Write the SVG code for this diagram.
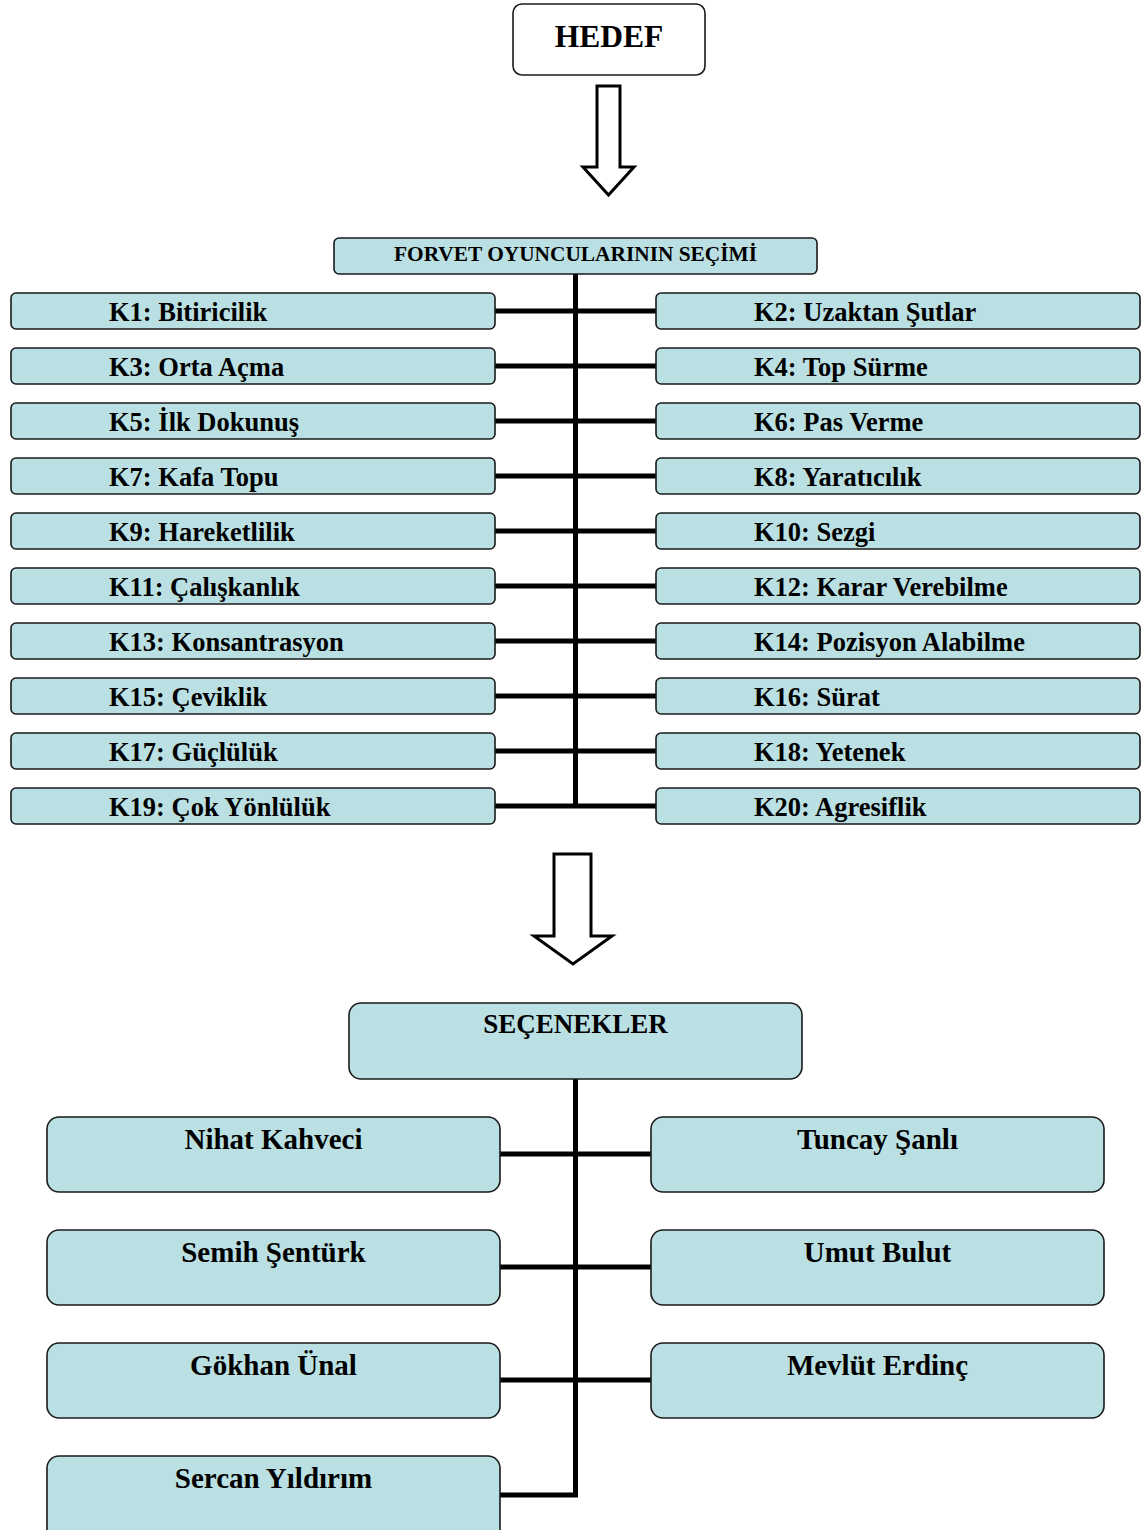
<svg xmlns="http://www.w3.org/2000/svg" width="1143" height="1530" viewBox="0 0 1143 1530">
<style>
.box{fill:#bae0e3;stroke:#1a1a1a;stroke-width:1.6}
.wbox{fill:#ffffff;stroke:#1a1a1a;stroke-width:1.6}
.arrow{fill:#ffffff;stroke:#000;stroke-width:3;stroke-linejoin:miter}
.t{font-family:"Liberation Serif","Times New Roman",serif;font-weight:bold;fill:#000}
.k{font-size:26.5px}
.o{font-size:29px;text-anchor:middle}
.conn{stroke:#000;stroke-width:5;fill:none}
</style>
<rect width="1143" height="1530" fill="#fff"/>
<g id="hedef">
<rect class="wbox" x="513" y="4" width="192" height="71" rx="9"/>
<text class="t" x="609" y="47" font-size="31.5" text-anchor="middle">HEDEF</text>
</g>
<g id="arrow1"><path class="arrow" d="M597,86 H620 V167 H634 L608.5,195 L583,167 H597 Z"/></g>
<g id="forvet">
<rect class="box" x="334" y="238" width="483" height="36" rx="5"/>
<text class="t" x="575.5" y="261" font-size="21" text-anchor="middle" textLength="363" lengthAdjust="spacingAndGlyphs">FORVET OYUNCULARININ SEÇİMİ</text>
</g>
<g id="connectors">
<path class="conn" d="M575.5,274 V806"/>
<path class="conn" d="M495,311 H656 M495,366 H656 M495,421 H656 M495,476 H656 M495,531 H656 M495,586 H656 M495,641 H656 M495,696 H656 M495,751 H656 M495,806 H656"/>
<path class="conn" d="M575.5,1079 V1495 H500 M500,1154 H651 M500,1267 H651 M500,1380 H651"/>
</g>
<g id="k1"><rect class="box" x="11" y="293" width="484" height="36" rx="5"/><text class="t k" x="109" y="321">K1: Bitiricilik</text></g>
<g id="k2"><rect class="box" x="656" y="293" width="484" height="36" rx="5"/><text class="t k" x="754" y="321">K2: Uzaktan Şutlar</text></g>
<g id="k3"><rect class="box" x="11" y="348" width="484" height="36" rx="5"/><text class="t k" x="109" y="376">K3: Orta Açma</text></g>
<g id="k4"><rect class="box" x="656" y="348" width="484" height="36" rx="5"/><text class="t k" x="754" y="376">K4: Top Sürme</text></g>
<g id="k5"><rect class="box" x="11" y="403" width="484" height="36" rx="5"/><text class="t k" x="109" y="431">K5: İlk Dokunuş</text></g>
<g id="k6"><rect class="box" x="656" y="403" width="484" height="36" rx="5"/><text class="t k" x="754" y="431">K6: Pas Verme</text></g>
<g id="k7"><rect class="box" x="11" y="458" width="484" height="36" rx="5"/><text class="t k" x="109" y="486">K7: Kafa Topu</text></g>
<g id="k8"><rect class="box" x="656" y="458" width="484" height="36" rx="5"/><text class="t k" x="754" y="486">K8: Yaratıcılık</text></g>
<g id="k9"><rect class="box" x="11" y="513" width="484" height="36" rx="5"/><text class="t k" x="109" y="541">K9: Hareketlilik</text></g>
<g id="k10"><rect class="box" x="656" y="513" width="484" height="36" rx="5"/><text class="t k" x="754" y="541">K10: Sezgi</text></g>
<g id="k11"><rect class="box" x="11" y="568" width="484" height="36" rx="5"/><text class="t k" x="109" y="596">K11: Çalışkanlık</text></g>
<g id="k12"><rect class="box" x="656" y="568" width="484" height="36" rx="5"/><text class="t k" x="754" y="596">K12: Karar Verebilme</text></g>
<g id="k13"><rect class="box" x="11" y="623" width="484" height="36" rx="5"/><text class="t k" x="109" y="651">K13: Konsantrasyon</text></g>
<g id="k14"><rect class="box" x="656" y="623" width="484" height="36" rx="5"/><text class="t k" x="754" y="651">K14: Pozisyon Alabilme</text></g>
<g id="k15"><rect class="box" x="11" y="678" width="484" height="36" rx="5"/><text class="t k" x="109" y="706">K15: Çeviklik</text></g>
<g id="k16"><rect class="box" x="656" y="678" width="484" height="36" rx="5"/><text class="t k" x="754" y="706">K16: Sürat</text></g>
<g id="k17"><rect class="box" x="11" y="733" width="484" height="36" rx="5"/><text class="t k" x="109" y="761">K17: Güçlülük</text></g>
<g id="k18"><rect class="box" x="656" y="733" width="484" height="36" rx="5"/><text class="t k" x="754" y="761">K18: Yetenek</text></g>
<g id="k19"><rect class="box" x="11" y="788" width="484" height="36" rx="5"/><text class="t k" x="109" y="816">K19: Çok Yönlülük</text></g>
<g id="k20"><rect class="box" x="656" y="788" width="484" height="36" rx="5"/><text class="t k" x="754" y="816">K20: Agresiflik</text></g>
<g id="arrow2"><path class="arrow" d="M554,854 H591 V936 H612 L573,964 L534,936 H554 Z"/></g>
<g id="secenekler">
<rect class="box" x="349" y="1003" width="453" height="76" rx="12"/>
<text class="t" x="575.5" y="1033" font-size="27" text-anchor="middle">SEÇENEKLER</text>
</g>
<g id="nihat"><rect class="box" x="47" y="1117" width="453" height="75" rx="12"/><text class="t o" x="273.5" y="1149">Nihat Kahveci</text></g>
<g id="tuncay"><rect class="box" x="651" y="1117" width="453" height="75" rx="12"/><text class="t o" x="877.5" y="1149">Tuncay Şanlı</text></g>
<g id="semih"><rect class="box" x="47" y="1230" width="453" height="75" rx="12"/><text class="t o" x="273.5" y="1262">Semih Şentürk</text></g>
<g id="umut"><rect class="box" x="651" y="1230" width="453" height="75" rx="12"/><text class="t o" x="877.5" y="1262">Umut Bulut</text></g>
<g id="gokhan"><rect class="box" x="47" y="1343" width="453" height="75" rx="12"/><text class="t o" x="273.5" y="1375">Gökhan Ünal</text></g>
<g id="mevlut"><rect class="box" x="651" y="1343" width="453" height="75" rx="12"/><text class="t o" x="877.5" y="1375">Mevlüt Erdinç</text></g>
<g id="sercan"><rect class="box" x="47" y="1456" width="453" height="90" rx="12"/><text class="t o" x="273.5" y="1488">Sercan Yıldırım</text></g>
</svg>
